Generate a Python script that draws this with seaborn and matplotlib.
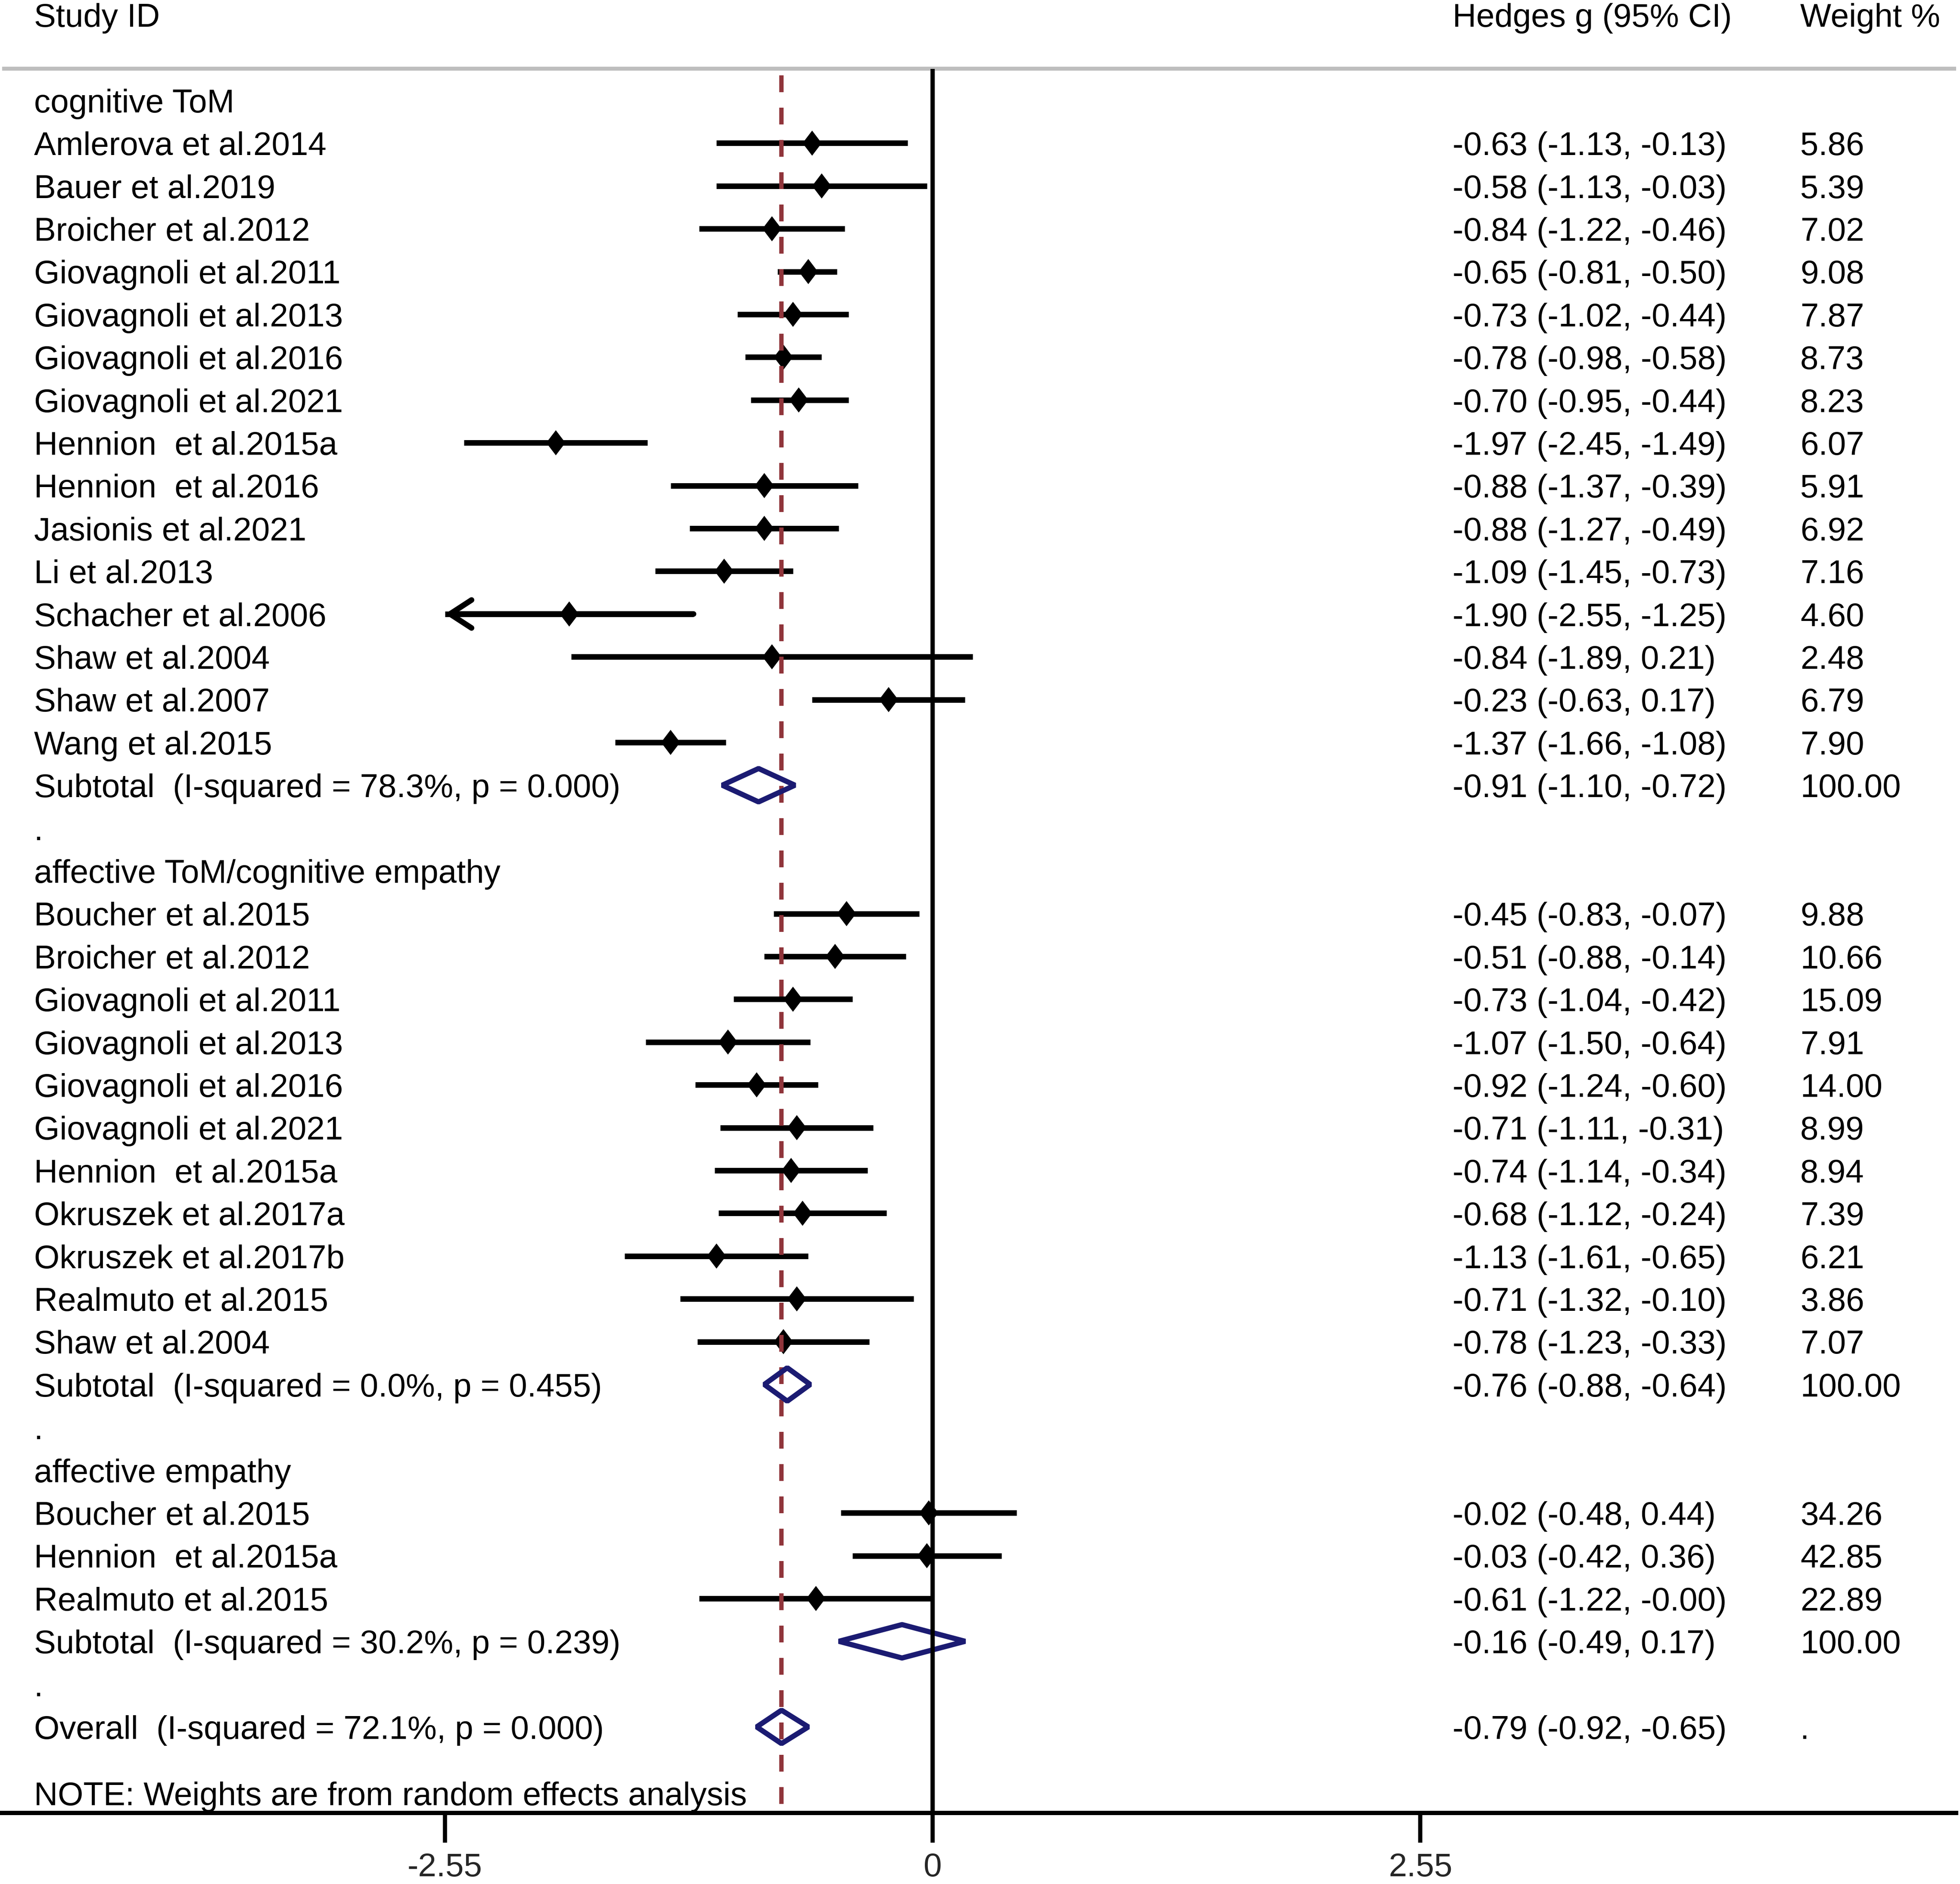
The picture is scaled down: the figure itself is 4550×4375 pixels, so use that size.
import numpy as np
import pandas as pd
import matplotlib
matplotlib.use("Agg")
import matplotlib.pyplot as plt
from matplotlib.path import Path
from matplotlib.patches import Polygon
import seaborn as sns

# ---------------- data ----------------
group_names = ["cognitive ToM", "affective ToM/cognitive empathy", "affective empathy"]

cog_labels = ["Amlerova et al.2014", "Bauer et al.2019", "Broicher et al.2012",
              "Giovagnoli et al.2011", "Giovagnoli et al.2013", "Giovagnoli et al.2016",
              "Giovagnoli et al.2021", "Hennion  et al.2015a", "Hennion  et al.2016",
              "Jasionis et al.2021", "Li et al.2013", "Schacher et al.2006",
              "Shaw et al.2004", "Shaw et al.2007", "Wang et al.2015"]
cog_es = [-0.63, -0.58, -0.84, -0.65, -0.73, -0.78, -0.70, -1.97, -0.88, -0.88, -1.09, -1.90, -0.84, -0.23, -1.37]
cog_lo = [-1.13, -1.13, -1.22, -0.81, -1.02, -0.98, -0.95, -2.45, -1.37, -1.27, -1.45, -2.55, -1.89, -0.63, -1.66]
cog_hi = [-0.13, -0.03, -0.46, -0.50, -0.44, -0.58, -0.44, -1.49, -0.39, -0.49, -0.73, -1.25, 0.21, 0.17, -1.08]
cog_w = [5.86, 5.39, 7.02, 9.08, 7.87, 8.73, 8.23, 6.07, 5.91, 6.92, 7.16, 4.60, 2.48, 6.79, 7.90]

aff_labels = ["Boucher et al.2015", "Broicher et al.2012", "Giovagnoli et al.2011",
              "Giovagnoli et al.2013", "Giovagnoli et al.2016", "Giovagnoli et al.2021",
              "Hennion  et al.2015a", "Okruszek et al.2017a", "Okruszek et al.2017b",
              "Realmuto et al.2015", "Shaw et al.2004"]
aff_es = [-0.45, -0.51, -0.73, -1.07, -0.92, -0.71, -0.74, -0.68, -1.13, -0.71, -0.78]
aff_lo = [-0.83, -0.88, -1.04, -1.50, -1.24, -1.11, -1.14, -1.12, -1.61, -1.32, -1.23]
aff_hi = [-0.07, -0.14, -0.42, -0.64, -0.60, -0.31, -0.34, -0.24, -0.65, -0.10, -0.33]
aff_w = [9.88, 10.66, 15.09, 7.91, 14.00, 8.99, 8.94, 7.39, 6.21, 3.86, 7.07]

emp_labels = ["Boucher et al.2015", "Hennion  et al.2015a", "Realmuto et al.2015"]
emp_es = [-0.02, -0.03, -0.61]
emp_lo = [-0.48, -0.42, -1.22]
emp_hi = [0.44, 0.36, -0.0]
emp_w = [34.26, 42.85, 22.89]

sub_i2 = [78.3, 0.0, 30.2]
sub_p = [0.000, 0.455, 0.239]
sub_es = [-0.91, -0.76, -0.16]
sub_lo = [-1.10, -0.88, -0.49]
sub_hi = [-0.72, -0.64, 0.17]

overall_es, overall_lo, overall_hi = -0.79, -0.92, -0.65
overall_i2, overall_p = 72.1, 0.000

tick_values = [-2.55, 0, 2.55]
tick_labels = ["-2.55", "0", "2.55"]
x_clip = -2.55

# ---------------- build row table ----------------
groups = [(cog_labels, cog_es, cog_lo, cog_hi, cog_w),
          (aff_labels, aff_es, aff_lo, aff_hi, aff_w),
          (emp_labels, emp_es, emp_lo, emp_hi, emp_w)]

study_rows = []
header_rows = []
subtotal_rows = []
dot_rows = []
r = 0
for gi, (labs, es, lo, hi, w) in enumerate(groups):
    header_rows.append((r, group_names[gi]))
    r += 1
    for l, e, a, b, ww in zip(labs, es, lo, hi, w):
        study_rows.append(dict(row=r, label=l, es=e, lo=a, hi=b, w=ww))
        r += 1
    subtotal_rows.append(dict(row=r, es=sub_es[gi], lo=sub_lo[gi], hi=sub_hi[gi],
                              i2=sub_i2[gi], p=sub_p[gi], w=100.0))
    r += 1
    dot_rows.append(r)
    r += 1
overall_row = r
note_row = r + 1.55

df = pd.DataFrame(study_rows)

# ---------------- figure ----------------
sns.set_theme(style="white")
plt.rcParams["font.family"] = ["Liberation Sans", "DejaVu Sans"]
plt.rcParams["axes.unicode_minus"] = False

W, H, DPI = 4550, 4375, 300
fig = plt.figure(figsize=(W / DPI, H / DPI), dpi=DPI)
fig.patch.set_facecolor("white")

px_unit = 444.0
x0_px = 2165.0
row0_px = 233.0
row_px = 99.4
ax_left_px, ax_right_px = 5.0, 4541.0
ax_bottom_px = 4210.0

ax = fig.add_axes([ax_left_px / W, (H - ax_bottom_px) / H,
                   (ax_right_px - ax_left_px) / W, ax_bottom_px / H])
ax.set_facecolor("white")
ax.set_xlim((ax_left_px - x0_px) / px_unit, (ax_right_px - x0_px) / px_unit)
y_bottom = (ax_bottom_px - row0_px) / row_px
y_top = -row0_px / row_px
ax.set_ylim(y_bottom, y_top)

FS = 18.3
base_off = 0.28
x_text = (79 - x0_px) / px_unit
x_ci = (3372 - x0_px) / px_unit
x_w = (4179 - x0_px) / px_unit

navy = "#1B1B72"
maroon = "#90353B"

# header line and vertical lines
ax.axhline(-0.745, color="#BEBEBE", lw=2.2, zorder=1)
ax.vlines(0, -0.735, y_bottom, color="black", lw=2.4, zorder=5)
ax.vlines(overall_es, -0.58, y_bottom, color=maroon, lw=2.4,
          linestyles=[(0, (3.9, 3.6))], zorder=4)

# CI lines
lo_clip = np.maximum(df["lo"].values, x_clip)
ax.hlines(df["row"], lo_clip, df["hi"], color="black", lw=3.1, zorder=2)
for _, rw in df[df["lo"] <= x_clip].iterrows():
    ax.annotate("", xy=(x_clip, rw["row"]), xytext=(rw["hi"], rw["row"]),
                arrowprops=dict(arrowstyle="->,head_length=0.4,head_width=0.26",
                                lw=3.1, color="black", shrinkA=0, shrinkB=0,
                                mutation_scale=30),
                zorder=2)

# study point estimates
diamond = Path([(0, 1), (0.76, 0), (0, -1), (-0.76, 0), (0, 1)],
               [Path.MOVETO, Path.LINETO, Path.LINETO, Path.LINETO, Path.CLOSEPOLY])
sns.scatterplot(data=df, x="es", y="row", marker=diamond, s=14.0 ** 2,
                color="black", linewidth=0, edgecolor="none", legend=False,
                ax=ax, zorder=3)

# pooled diamonds
half_h = 0.39
pooled = subtotal_rows + [dict(row=overall_row, es=overall_es, lo=overall_lo, hi=overall_hi)]
for s in pooled:
    poly = Polygon([(s["lo"], s["row"]), (s["es"], s["row"] - half_h),
                    (s["hi"], s["row"]), (s["es"], s["row"] + half_h)],
                   closed=True, facecolor="none", edgecolor=navy, lw=2.9,
                   joinstyle="bevel", zorder=4.5)
    ax.add_patch(poly)

# ---------------- text ----------------
def txt(x, row, s):
    ax.text(x, row + base_off, s, fontsize=FS, color="black", ha="left",
            va="baseline", zorder=6)

txt(x_text, -1.72 - base_off, "Study ID")
txt(x_ci, -1.72 - base_off, "Hedges g (95% CI)")
txt(x_w, -1.72 - base_off, "Weight %")

for row, name in header_rows:
    txt(x_text, row, name)
for _, rw in df.iterrows():
    txt(x_text, rw["row"], rw["label"])
    txt(x_ci, rw["row"], f"{rw['es']:.2f} ({rw['lo']:.2f}, {rw['hi']:.2f})")
    txt(x_w, rw["row"], f"{rw['w']:.2f}")
for s in subtotal_rows:
    txt(x_text, s["row"], f"Subtotal  (I-squared = {s['i2']:.1f}%, p = {s['p']:.3f})")
    txt(x_ci, s["row"], f"{s['es']:.2f} ({s['lo']:.2f}, {s['hi']:.2f})")
    txt(x_w, s["row"], f"{s['w']:.2f}")
for row in dot_rows:
    txt(x_text, row, ".")
txt(x_text, overall_row, f"Overall  (I-squared = {overall_i2:.1f}%, p = {overall_p:.3f})")
txt(x_ci, overall_row, f"{overall_es:.2f} ({overall_lo:.2f}, {overall_hi:.2f})")
txt(x_w, overall_row, ".")
txt(x_text, note_row, "NOTE: Weights are from random effects analysis")

# ---------------- axes ----------------
for side in ["top", "left", "right"]:
    ax.spines[side].set_visible(False)
ax.spines["bottom"].set_linewidth(2.4)
ax.spines["bottom"].set_color("black")
ax.set_xticks(tick_values)
ax.set_xticklabels(tick_labels)
ax.set_yticks([])
ax.tick_params(axis="x", direction="out", length=16.5, width=2.3, color="black",
               labelsize=FS, pad=5.5, bottom=True)
ax.set_xlabel("")
ax.set_ylabel("")
ax.grid(False)

fig.savefig("out.png", dpi=DPI, facecolor="white")
